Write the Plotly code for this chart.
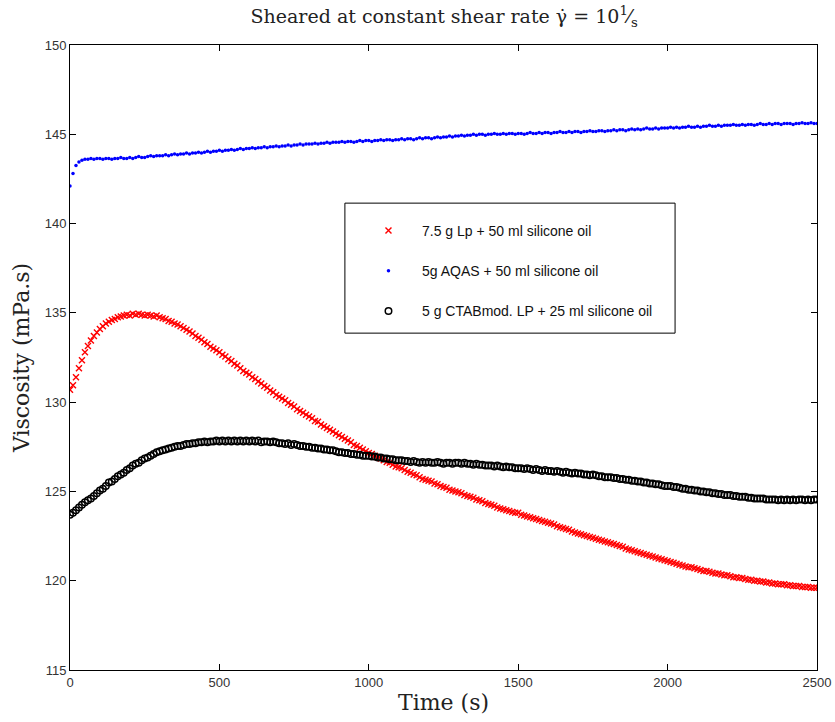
import plotly.graph_objects as go

# Sampling times (s), one reading every 10 s
time_s = list(range(0, 2501, 10))

# Viscosity (mPa.s) of each suspension
visc_lp = [
    130.70, 130.95, 131.40, 131.90, 132.35, 132.80, 133.15, 133.45, 133.70, 133.90,
    134.10, 134.25, 134.40, 134.50, 134.60, 134.65, 134.75, 134.80, 134.85, 134.90,
    134.85, 134.95, 134.90, 134.95, 134.90, 134.85, 134.90, 134.85, 134.80, 134.85,
    134.75, 134.70, 134.65, 134.55, 134.50, 134.40, 134.35, 134.25, 134.15, 134.05,
    133.95, 133.85, 133.70, 133.60, 133.50, 133.35, 133.25, 133.10, 133.00, 132.90,
    132.80, 132.65, 132.55, 132.40, 132.30, 132.15, 132.05, 131.90, 131.75, 131.65,
    131.55, 131.40, 131.30, 131.15, 131.05, 130.90, 130.80, 130.65, 130.55, 130.40,
    130.30, 130.20, 130.10, 129.95, 129.85, 129.75, 129.60, 129.50, 129.40, 129.30,
    129.20, 129.10, 128.95, 128.90, 128.75, 128.65, 128.55, 128.45, 128.35, 128.25,
    128.15, 128.05, 127.95, 127.85, 127.75, 127.60, 127.55, 127.45, 127.35, 127.25,
    127.15, 127.10, 127.00, 126.90, 126.85, 126.75, 126.65, 126.60, 126.50, 126.40,
    126.35, 126.30, 126.20, 126.10, 126.05, 125.95, 125.90, 125.80, 125.70, 125.65,
    125.60, 125.55, 125.45, 125.40, 125.30, 125.25, 125.20, 125.10, 125.05, 125.00,
    124.95, 124.90, 124.80, 124.75, 124.70, 124.65, 124.55, 124.50, 124.45, 124.35,
    124.30, 124.25, 124.20, 124.10, 124.05, 124.00, 123.95, 123.90, 123.85, 123.80,
    123.80, 123.70, 123.65, 123.60, 123.55, 123.50, 123.45, 123.40, 123.35, 123.30,
    123.25, 123.20, 123.15, 123.05, 123.00, 122.95, 122.90, 122.85, 122.75, 122.70,
    122.65, 122.60, 122.55, 122.50, 122.45, 122.40, 122.35, 122.30, 122.25, 122.20,
    122.15, 122.10, 122.05, 122.00, 121.95, 121.90, 121.80, 121.75, 121.70, 121.65,
    121.60, 121.55, 121.50, 121.45, 121.40, 121.35, 121.30, 121.25, 121.20, 121.15,
    121.10, 121.05, 121.00, 120.95, 120.90, 120.85, 120.80, 120.75, 120.75, 120.70,
    120.65, 120.60, 120.55, 120.55, 120.50, 120.45, 120.40, 120.40, 120.35, 120.30,
    120.30, 120.25, 120.20, 120.20, 120.15, 120.15, 120.10, 120.05, 120.05, 120.00,
    120.00, 119.95, 119.95, 119.90, 119.90, 119.85, 119.85, 119.80, 119.80, 119.80,
    119.75, 119.75, 119.70, 119.70, 119.70, 119.65, 119.65, 119.65, 119.60, 119.60,
    119.60,
]

visc_aqas = [
    142.10, 142.80, 143.25, 143.45, 143.55, 143.60, 143.60, 143.65, 143.60, 143.65,
    143.65, 143.60, 143.65, 143.65, 143.60, 143.65, 143.65, 143.70, 143.65, 143.65,
    143.70, 143.65, 143.70, 143.75, 143.70, 143.70, 143.75, 143.80, 143.75, 143.80,
    143.80, 143.80, 143.85, 143.80, 143.85, 143.90, 143.85, 143.90, 143.90, 143.95,
    143.90, 143.95, 143.95, 144.00, 143.95, 144.00, 144.05, 144.00, 144.05, 144.05,
    144.10, 144.05, 144.10, 144.10, 144.15, 144.10, 144.15, 144.20, 144.15, 144.20,
    144.20, 144.25, 144.20, 144.25, 144.25, 144.30, 144.25, 144.30, 144.30, 144.35,
    144.30, 144.35, 144.35, 144.40, 144.35, 144.40, 144.40, 144.45, 144.40, 144.45,
    144.45, 144.45, 144.50, 144.45, 144.50, 144.50, 144.55, 144.50, 144.55, 144.55,
    144.55, 144.60, 144.55, 144.60, 144.60, 144.55, 144.60, 144.65, 144.60, 144.65,
    144.65, 144.60, 144.65, 144.65, 144.70, 144.65, 144.70, 144.70, 144.65, 144.70,
    144.70, 144.75, 144.70, 144.75, 144.75, 144.70, 144.75, 144.80, 144.75, 144.80,
    144.80, 144.75, 144.80, 144.85, 144.80, 144.85, 144.85, 144.90, 144.85, 144.90,
    144.90, 144.95, 144.90, 144.95, 144.95, 145.00, 144.95, 145.00, 145.00, 144.95,
    145.00, 145.00, 145.05, 145.00, 145.00, 145.05, 145.00, 145.05, 145.05, 145.00,
    145.05, 145.05, 145.00, 145.05, 145.10, 145.05, 145.05, 145.10, 145.05, 145.10,
    145.10, 145.05, 145.10, 145.10, 145.15, 145.10, 145.10, 145.15, 145.10, 145.15,
    145.15, 145.10, 145.15, 145.15, 145.20, 145.15, 145.15, 145.20, 145.20, 145.15,
    145.20, 145.20, 145.25, 145.20, 145.25, 145.25, 145.20, 145.25, 145.30, 145.25,
    145.30, 145.25, 145.30, 145.35, 145.30, 145.30, 145.35, 145.30, 145.35, 145.35,
    145.35, 145.40, 145.35, 145.40, 145.35, 145.40, 145.40, 145.45, 145.40, 145.40,
    145.45, 145.40, 145.45, 145.45, 145.50, 145.45, 145.45, 145.50, 145.45, 145.50,
    145.50, 145.50, 145.55, 145.50, 145.50, 145.55, 145.50, 145.55, 145.55, 145.50,
    145.55, 145.60, 145.55, 145.55, 145.60, 145.55, 145.60, 145.60, 145.55, 145.60,
    145.60, 145.60, 145.55, 145.60, 145.60, 145.65, 145.60, 145.60, 145.65, 145.60,
    145.60,
]

visc_ctab = [
    123.70, 123.80, 123.95, 124.10, 124.25, 124.40, 124.50, 124.60, 124.75, 124.90,
    125.05, 125.15, 125.30, 125.50, 125.55, 125.70, 125.85, 125.95, 126.05, 126.20,
    126.30, 126.45, 126.55, 126.60, 126.75, 126.85, 126.90, 127.00, 127.10, 127.20,
    127.25, 127.30, 127.35, 127.40, 127.45, 127.50, 127.55, 127.55, 127.60, 127.65,
    127.65, 127.70, 127.70, 127.75, 127.75, 127.80, 127.75, 127.80, 127.80, 127.85,
    127.80, 127.85, 127.80, 127.85, 127.80, 127.85, 127.80, 127.85, 127.80, 127.85,
    127.80, 127.85, 127.80, 127.85, 127.75, 127.80, 127.80, 127.75, 127.80, 127.75,
    127.70, 127.70, 127.65, 127.70, 127.60, 127.65, 127.60, 127.55, 127.55, 127.50,
    127.50, 127.45, 127.45, 127.40, 127.40, 127.35, 127.35, 127.30, 127.30, 127.25,
    127.20, 127.20, 127.15, 127.15, 127.10, 127.10, 127.05, 127.05, 127.00, 127.00,
    127.00, 126.95, 126.95, 126.90, 126.90, 126.85, 126.85, 126.80, 126.80, 126.75,
    126.75, 126.75, 126.70, 126.70, 126.65, 126.70, 126.65, 126.60, 126.65, 126.60,
    126.65, 126.60, 126.60, 126.65, 126.60, 126.55, 126.60, 126.60, 126.55, 126.60,
    126.60, 126.55, 126.60, 126.55, 126.55, 126.50, 126.55, 126.50, 126.50, 126.45,
    126.45, 126.45, 126.40, 126.45, 126.40, 126.35, 126.40, 126.35, 126.35, 126.30,
    126.30, 126.30, 126.25, 126.30, 126.25, 126.20, 126.25, 126.20, 126.15, 126.20,
    126.15, 126.15, 126.10, 126.15, 126.10, 126.05, 126.10, 126.05, 126.00, 126.05,
    126.00, 126.00, 125.95, 125.95, 125.90, 125.95, 125.90, 125.85, 125.85, 125.80,
    125.80, 125.80, 125.75, 125.75, 125.70, 125.70, 125.65, 125.65, 125.60, 125.60,
    125.55, 125.55, 125.50, 125.50, 125.45, 125.45, 125.40, 125.40, 125.35, 125.30,
    125.30, 125.30, 125.25, 125.25, 125.20, 125.15, 125.15, 125.10, 125.10, 125.05,
    125.05, 125.00, 125.00, 124.95, 124.95, 124.90, 124.90, 124.85, 124.85, 124.80,
    124.80, 124.80, 124.75, 124.75, 124.70, 124.70, 124.70, 124.65, 124.65, 124.60,
    124.60, 124.60, 124.60, 124.55, 124.55, 124.55, 124.55, 124.50, 124.55, 124.50,
    124.55, 124.50, 124.55, 124.50, 124.55, 124.55, 124.50, 124.55, 124.50, 124.55,
    124.55,
]

series_names = [
    "7.5 g Lp + 50 ml silicone oil",
    "5g AQAS + 50 ml silicone oil",
    "5 g CTABmod. LP + 25 ml silicone oil",
]

x_ticks = [0, 500, 1000, 1500, 2000, 2500]
y_ticks = [115, 120, 125, 130, 135, 140, 145, 150]

serif = "DejaVu Serif, serif"
sans = "Liberation Sans, Arial, sans-serif"

fig = go.Figure()

fig.add_trace(go.Scatter(
    x=time_s, y=visc_lp, mode="markers", name=series_names[0],
    legendgroup="a",
    marker=dict(symbol="x-thin-open", size=6, color="#ff0000",
                line=dict(color="#ff0000", width=1.4)),
))
fig.add_trace(go.Scatter(
    x=time_s, y=visc_aqas, mode="markers", name=series_names[1],
    legendgroup="b",
    marker=dict(symbol="circle", size=3.5, color="#0000ff"),
))
fig.add_trace(go.Scatter(
    x=time_s, y=visc_ctab, mode="markers", name=series_names[2],
    legendgroup="c",
    marker=dict(symbol="circle-open", size=6.5, color="#000000",
                line=dict(color="#000000", width=1.5)),
))

axis_common = dict(
    showline=True, linecolor="black", linewidth=1, mirror="ticks",
    ticks="inside", ticklen=6, tickwidth=1, tickcolor="black",
    showgrid=False, zeroline=False, automargin=False,
    tickfont=dict(family=sans, size=13, color="#333333"),
)

fig.update_xaxes(
    range=[0, 2500], tickvals=x_ticks,
    title=dict(text="Time (s)", font=dict(family=serif, size=22, color="#222222"),
               standoff=6),
    **axis_common,
)
fig.update_yaxes(
    range=[115, 150], tickvals=y_ticks,
    title=dict(text="Viscosity (mPa.s)", font=dict(family=serif, size=22, color="#222222"),
               standoff=8),
    **axis_common,
)

# Legend frame
fig.add_shape(type="rect", xref="paper", yref="paper",
              x0=0.368, x1=0.810, y0=0.539, y1=0.747,
              line=dict(color="black", width=1), fillcolor="rgba(0,0,0,0)", layer="above")

fig.update_layout(
    width=835, height=722,
    margin=dict(l=70, r=18, t=45, b=52),
    paper_bgcolor="white", plot_bgcolor="white",
    title=dict(
        text="Sheared at constant shear rate γ̇ = 10<sup>1</sup>⁄<sub>s</sub>",
        x=0.532, xanchor="center", y=0.978, yanchor="middle",
        font=dict(family=serif, size=19, color="#222222"),
    ),
    legend=dict(
        x=0.3815, y=0.728, xanchor="left", yanchor="top",
        bgcolor="rgba(0,0,0,0)", borderwidth=0,
        font=dict(family=sans, size=14, color="#111111"),
        tracegroupgap=19, traceorder="grouped", itemwidth=57,
    ),
    showlegend=True,
)

fig.write_html("out.html")
